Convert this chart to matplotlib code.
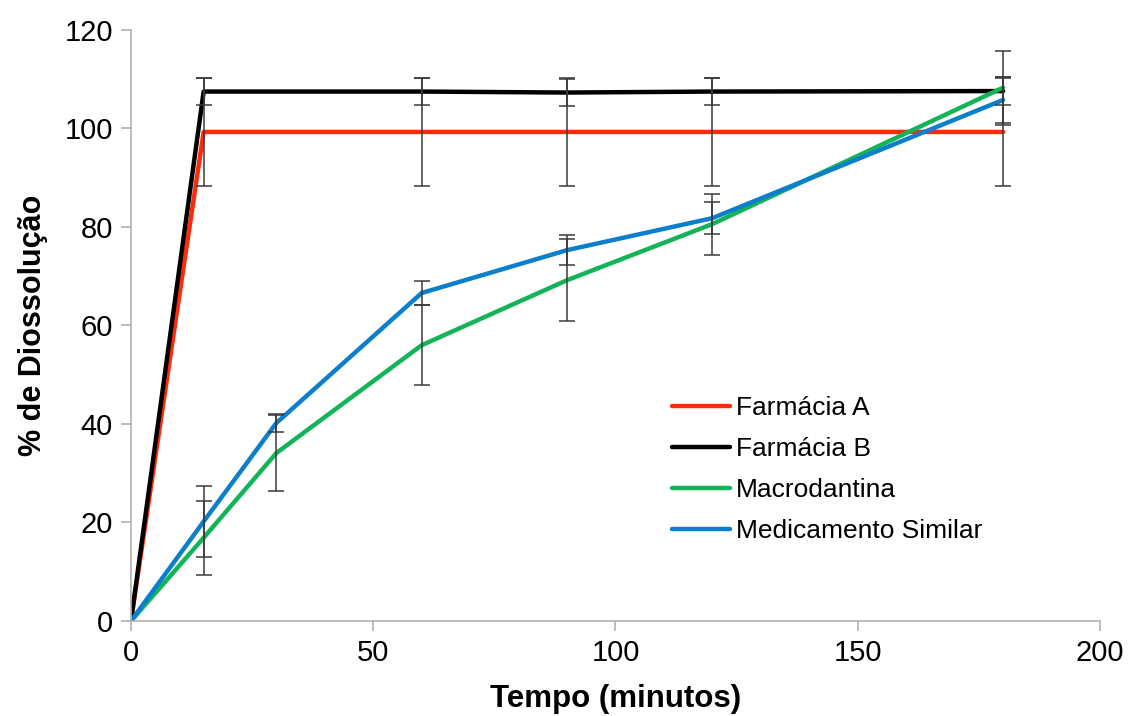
import matplotlib.pyplot as plt

# tempo (min) e % de dissolucao
t_farm = [0, 15, 60, 90, 120, 180]
t_ref = [0, 15, 30, 60, 90, 120, 180]

farm_a = [0, 99.3, 99.3, 99.3, 99.3, 99.3]
farm_a_err = [0, 10.9, 10.9, 10.9, 10.9, 10.9]

farm_b = [0, 107.5, 107.5, 107.3, 107.5, 107.6]
farm_b_err = [0, 2.8, 2.8, 2.8, 2.8, 2.9]

macro = [0, 16.9, 34.1, 56.0, 69.2, 80.6, 108.3]
macro_err = [0, 7.5, 7.8, 8.1, 8.3, 6.2, 7.5]

similar = [0, 20.2, 40.2, 66.6, 75.3, 81.8, 105.8]
similar_err = [0, 7.3, 1.9, 2.5, 3.0, 3.2, 4.7]

labels = ['Farmácia A', 'Farmácia B', 'Macrodantina', 'Medicamento Similar']
colors = ['#FF2A0A', '#000000', '#12B457', '#0B7FCB']

plt.rcParams['font.family'] = ['Liberation Sans', 'DejaVu Sans']

fig = plt.figure(figsize=(11.31, 7.16), dpi=100)
ax = fig.add_axes([0.1158, 0.1327, 0.8568, 0.8254])

series = [(t_farm, farm_a, farm_a_err), (t_farm, farm_b, farm_b_err),
          (t_ref, macro, macro_err), (t_ref, similar, similar_err)]

for (x, y, e), lab, c in zip(series, labels, colors):
    ax.plot(x, y, color=c, lw=3.2, label=lab, zorder=2, solid_capstyle='round')

for x, y, e in series:
    xs = [a for a, b in zip(x, e) if b > 0]
    ys = [a for a, b in zip(y, e) if b > 0]
    es = [b for b in e if b > 0]
    ax.errorbar(xs, ys, yerr=es, fmt='none', ecolor='#3a3a3a', elinewidth=1.1,
                capsize=6, capthick=1.1, zorder=3)

ax.set_xlim(0, 200)
ax.set_ylim(0, 120)
ax.set_xticks([0, 50, 100, 150, 200])
ax.set_yticks([0, 20, 40, 60, 80, 100, 120])
ax.tick_params(labelsize=21, length=7, width=1.2, color='#b0b0b0', pad=6)

for s in ['top', 'right']:
    ax.spines[s].set_visible(False)
for s in ['left', 'bottom']:
    ax.spines[s].set_color('#b0b0b0')
    ax.spines[s].set_linewidth(1.2)

ax.set_xlabel('Tempo (minutos)', fontsize=22.5, fontweight='bold', labelpad=12)
ax.set_ylabel('% de Diossolução', fontsize=22, fontweight='bold', labelpad=12)

ax.legend(loc='upper left', bbox_to_anchor=(0.558, 0.381), frameon=False,
          fontsize=19, handlelength=2.2, handletextpad=0.25, labelspacing=0.65,
          borderpad=0, borderaxespad=0)

fig.savefig('out.png', dpi=100)
